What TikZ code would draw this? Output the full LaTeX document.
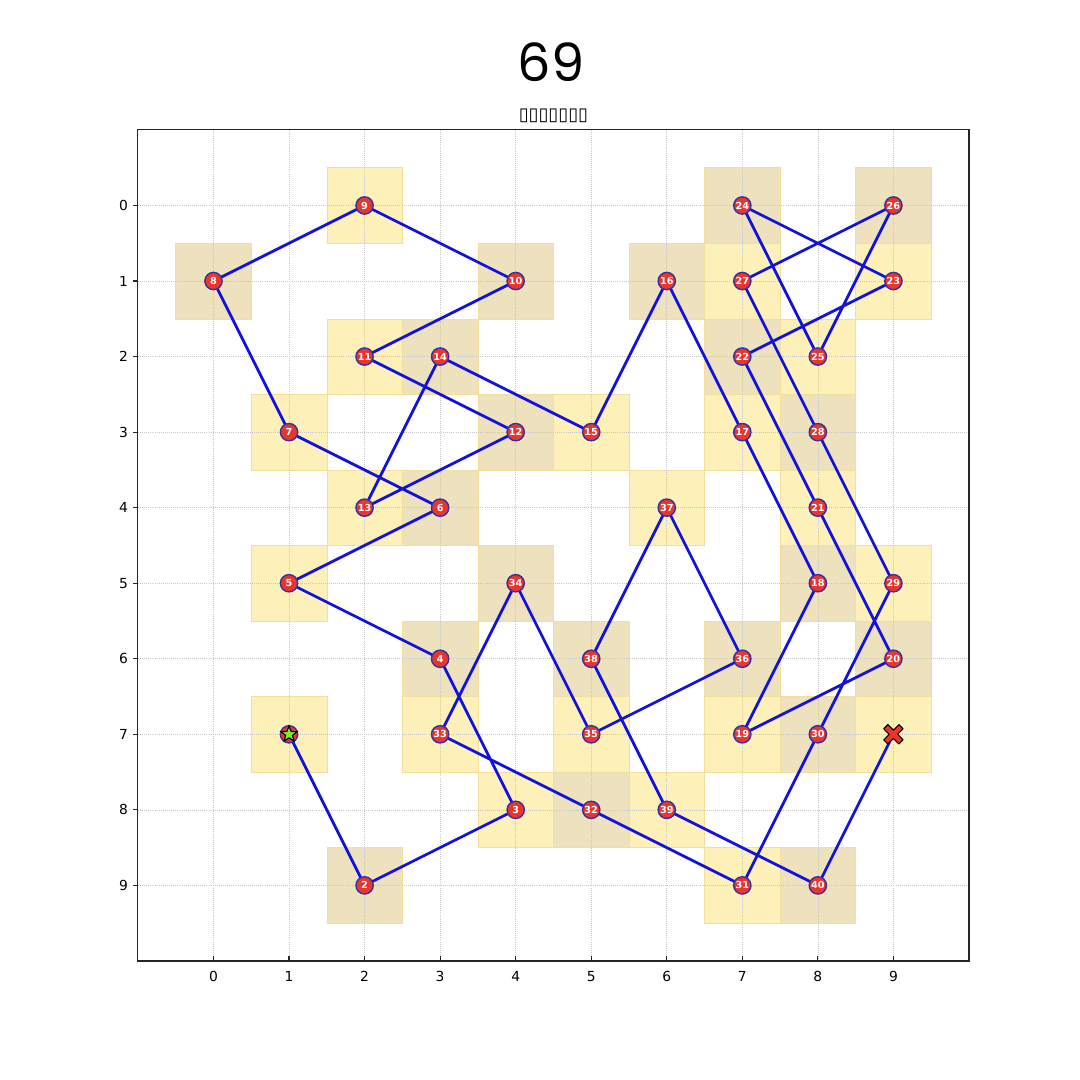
\documentclass[tikz,border=0pt]{standalone}
\usepackage{fontspec}
\setmainfont{DejaVu Sans}
\newfontfamily\titlefont{Poppins}
\usetikzlibrary{shapes.geometric}
\definecolor{cellY}{HTML}{FDF0B9}
\definecolor{cellT}{HTML}{EEE1BE}
\definecolor{cellE}{HTML}{F2DF9C}
\definecolor{pathblue}{HTML}{1212DD}
\definecolor{nodered}{HTML}{E8362E}
\definecolor{nodeedge}{HTML}{3A2FA0}
\definecolor{startgreen}{HTML}{7CEB2A}
\tikzset{
  cellbox/.style={draw=cellE, line width=0.4pt},
  gridline/.style={draw=black!22, line width=0.5pt, densely dotted},
  pathline/.style={draw=pathblue, line width=2pt, line join=round},
  knode/.style={circle, fill=nodered, draw=nodeedge, line width=1pt, minimum size=12.5pt, inner sep=0pt,
    text=white, font=\bfseries\fontsize{7}{7}\selectfont},
  ticklabel/.style={inner sep=0pt, font=\fontsize{10}{10}\selectfont},
}
\begin{document}
\begin{tikzpicture}[x=0.75545in,y=-0.75545in]
\useasboundingbox[fill=white] (-2.826,-2.720) rectangle (11.470,11.576);
% positions of the tour
\foreach \x/\y [count=\i] in {1/7,2/9,4/8,3/6,1/5,3/4,1/3,0/1,2/0,4/1,2/2,4/3,2/4,3/2,5/3,6/1,7/3,8/5,7/7,9/6,8/4,7/2,9/1,7/0,8/2,9/0,7/1,8/3,9/5,8/7,7/9,5/8,3/7,4/5,5/7,7/6,6/4,5/6,6/8,8/9,9/7}
{
  \coordinate (p\i) at (\x,\y);
  \ifodd\i
    \fill[cellY] (\x-0.5,\y-0.5) rectangle (\x+0.5,\y+0.5);
  \else
    \fill[cellT] (\x-0.5,\y-0.5) rectangle (\x+0.5,\y+0.5);
  \fi
  \draw[cellbox] (\x-0.5,\y-0.5) rectangle (\x+0.5,\y+0.5);
}
% grid
\foreach \i in {0,...,9}{
  \draw[gridline] (\i,-1) -- (\i,10);
  \draw[gridline] (-1,\i) -- (10,\i);
}
% frame and ticks
\draw[line width=0.8pt, black!85] (-1,-1) rectangle (10,10);
\foreach \i in {0,...,9}{
  \draw[line width=0.8pt, black!85] (\i,10) -- ++(0,3.5pt);
  \draw[line width=0.8pt, black!85] (-1,\i) -- ++(-3.5pt,0);
  \node[ticklabel, anchor=north] (xt\i) at ([yshift=-7pt]\i,10) {\i};
  \node[ticklabel, anchor=east] (yt\i) at ([xshift=-7pt]-1,\i) {\i};
}
% title and subtitle
\node (title) at (4.47,-1.90) {\titlefont\fontsize{38}{38}\selectfont 69};
\node (subtitle) at (4.5,-1.185) {\fontsize{13}{13}\selectfont ▯▯▯▯▯▯▯};
% tour path
\draw[pathline] (p1) \foreach \i in {2,...,41}{ -- (p\i)};
% numbered nodes
\foreach \i in {2,...,40}{
  \node[knode] (n\i) at (p\i) {\i};
}
% start
\node[knode] (n1) at (p1) {};
\node[star, star points=5, star point ratio=2.3, fill=startgreen, draw=black, line width=0.8pt,
  minimum size=12pt, inner sep=0pt] (startmark) at (p1) {};
% end (X marker)
\begin{scope}[shift={(p41)}, x=1pt, y=1pt]
  \filldraw[fill=nodered, draw=black, line width=0.8pt, line join=round]
    (-7,-4) -- (-3,0) -- (-7,4) -- (-4,7) -- (0,3) -- (4,7) -- (7,4) -- (3,0) -- (7,-4) -- (4,-7) -- (0,-3) -- (-4,-7) -- cycle;
\end{scope}
\coordinate (endmark) at (p41);
\end{tikzpicture}
\end{document}
